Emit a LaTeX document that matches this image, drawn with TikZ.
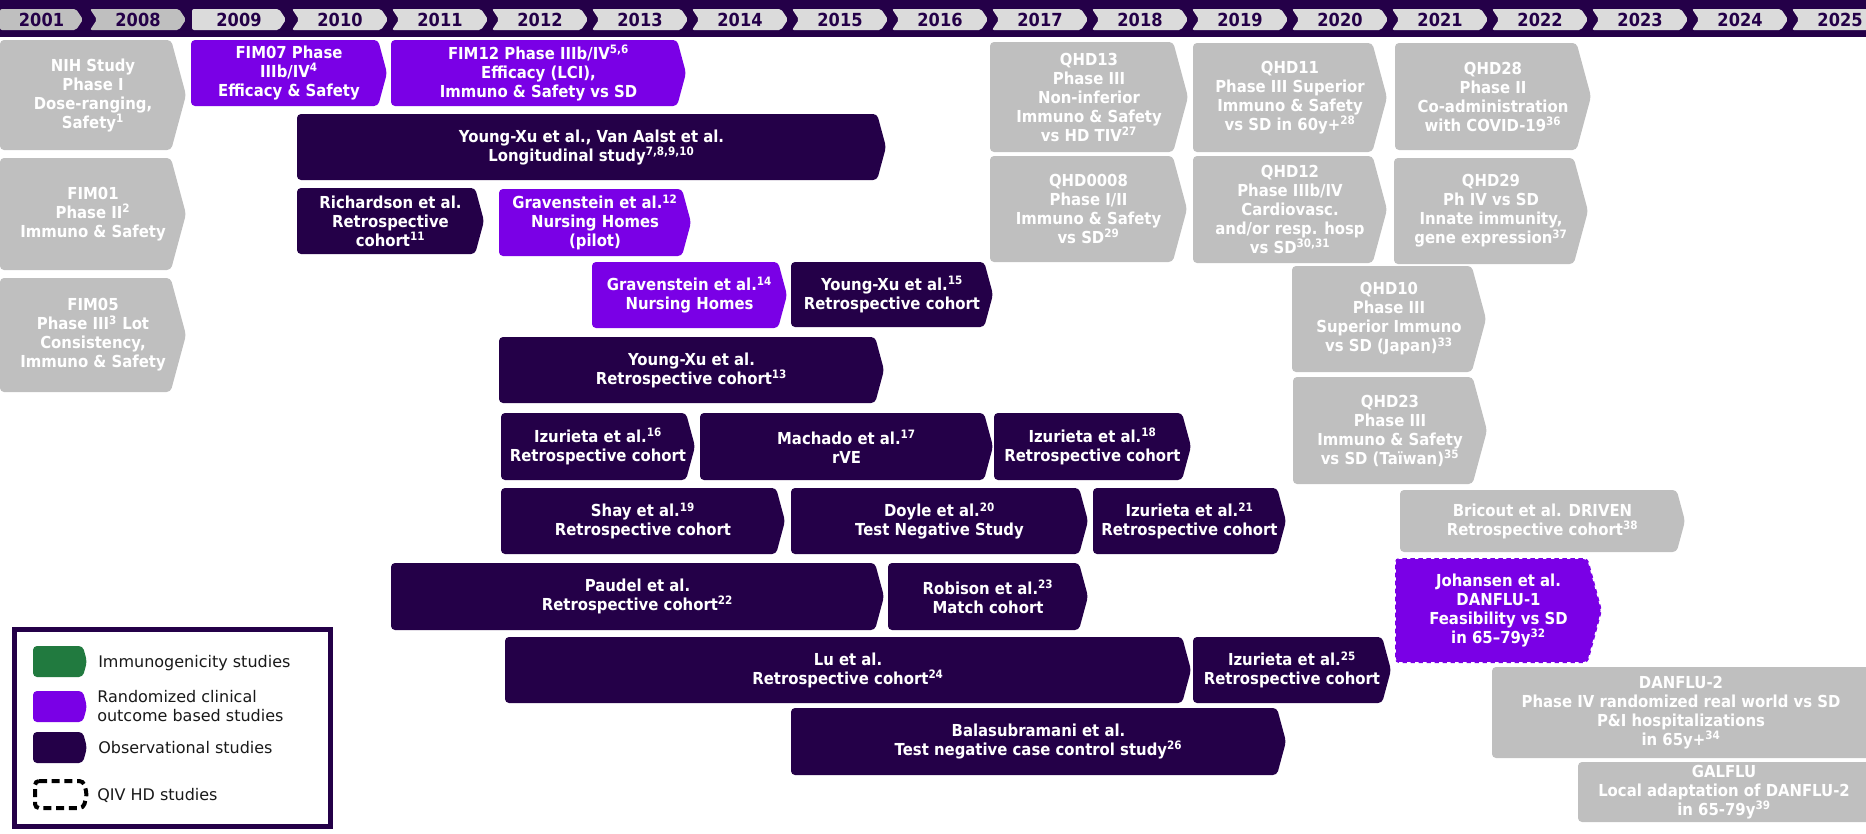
\documentclass[tikz,border=0pt]{standalone}
\usepackage{fontspec}
\setmainfont{DejaVu Sans}[FakeStretch=0.9]
\newfontfamily\legendfont{DejaVu Sans}

\definecolor{obsdark}{RGB}{36,0,72}
\definecolor{rcpurple}{RGB}{122,0,230}
\definecolor{studygray}{RGB}{191,191,191}
\definecolor{yearlight}{RGB}{219,219,219}
\definecolor{yearearly}{RGB}{191,191,191}
\definecolor{immgreen}{RGB}{33,122,63}

\newcommand\rf[1]{\textsuperscript{#1}}

% chevron-shaped study box: style, x1, y1, x2, y2 (pixel units, y downwards)
\newcommand\studyshape[5]{%
  \pgfmathsetmacro\dd{0.135*(#5-#3)}%
  \path[rounded corners=3pt, #1] (#2,#3) -- ({#4-\dd},#3) -- (#4,{(#3+#5)/2})
    -- ({#4-\dd},#5) -- (#2,#5) -- cycle;}

% study box with its label: name, style, x1, y1, x2, y2, text
\newcommand\study[7]{%
  \studyshape{#2}{#3}{#4}{#5}{#6}%
  \node[boxtext] (#1) at ({(#3+#5)/2},{(#4+#6)/2}) {#7};}

% year chevron of the timeline: name, colour, x1, x2, label, notch depth
\newcommand\yearchev[6]{%
  \fill[#2, rounded corners=1.5pt] (#3,9) -- ({#4-7},9) -- (#4,19.5) -- ({#4-7},30)
    -- (#3,30) -- ({#3+#6},19.5) -- cycle;
  \node[yearlabel] (#1) at ({(#3+#4)/2},19.5) {#5};}

\begin{document}
\begin{tikzpicture}[x=0.75pt, y=-0.75pt,
  boxtext/.style={text=white, align=center, inner sep=0pt,
    font=\bfseries\fontsize{12.4}{14.25}\selectfont},
  yearlabel/.style={text=obsdark, inner sep=0pt,
    font=\bfseries\fontsize{13.5}{14}\selectfont},
  legtext/.style={text=black!90, inner sep=0pt, anchor=west, align=left,
    font=\legendfont\fontsize{12}{13.6}\selectfont},
  obs/.style={fill=obsdark},
  rco/.style={fill=rcpurple},
  imm/.style={fill=studygray},
  qivhd/.style={postaction={draw=white, line width=1.3pt, dash pattern=on 2.5pt off 3.5pt}}]

\useasboundingbox (0,0) rectangle (1866,833);
\clip (0,0) rectangle (1866,833);

% ---- timeline band ----
\fill[obsdark] (0,0) rectangle (1866,37);
\yearchev{y2001}{yearearly}{0}{83}{2001}{0}
\yearchev{y2008}{yearearly}{90}{186}{2008}{7}
\yearchev{y2009}{yearlight}{192}{286}{2009}{0}
\foreach \yr [count=\k from 0] in {2010,...,2025}{
  \yearchev{y\yr}{yearlight}{292+100*\k}{388+100*\k}{\yr}{7}
}

% ---- early immunogenicity studies ----
\study{nih}{imm}{0}{40}{186}{150}{NIH Study\\Phase I\\Dose-ranging,\\Safety\rf{1}}
\study{fim01}{imm}{0}{158}{186}{270}{FIM01\\Phase II\rf{2}\\Immuno \& Safety}
\study{fim05}{imm}{0}{278}{186}{392}{FIM05\\Phase III\rf{3} Lot\\Consistency,\\Immuno \& Safety}

% ---- randomized clinical outcome studies ----
\study{fim07}{rco}{191}{40}{387}{106}{FIM07 Phase\\IIIb/IV\rf{4}\\Efficacy \& Safety}
\study{fim12}{rco}{391}{40}{686}{106}{FIM12 Phase IIIb/IV\rf{5,6}\\Efficacy (LCI),\\Immuno \& Safety vs SD}
\study{grav12}{rco}{499}{189}{691}{256}{Gravenstein et al.\rf{12}\\Nursing Homes\\(pilot)}
\study{grav14}{rco}{592}{262}{787}{328}{Gravenstein et al.\rf{14}\\Nursing Homes}

% ---- observational studies ----
\study{youngvan}{obs}{297}{114}{886}{180}{Young-Xu et al., Van Aalst et al.\\Longitudinal study\rf{7,8,9,10}}
\study{richardson}{obs}{297}{188}{484}{254}{Richardson et al.\\Retrospective\\cohort\rf{11}}
\study{yx15}{obs}{791}{262}{993}{327}{Young-Xu et al.\rf{15}\\Retrospective cohort}
\study{yx13}{obs}{499}{337}{884}{403}{Young-Xu et al.\\Retrospective cohort\rf{13}}
\study{iz16}{obs}{501}{413}{695}{480}{Izurieta et al.\rf{16}\\Retrospective cohort}
\study{machado}{obs}{700}{413}{993}{480}{Machado et al.\rf{17}\\rVE}
\study{iz18}{obs}{994}{413}{1191}{480}{Izurieta et al.\rf{18}\\Retrospective cohort}
\study{shay}{obs}{501}{488}{785}{554}{Shay et al.\rf{19}\\Retrospective cohort}
\study{doyle}{obs}{791}{488}{1088}{554}{Doyle et al.\rf{20}\\Test Negative Study}
\study{iz21}{obs}{1093}{488}{1286}{554}{Izurieta et al.\rf{21}\\Retrospective cohort}
\study{paudel}{obs}{391}{563}{884}{630}{Paudel et al.\\Retrospective cohort\rf{22}}
\study{robison}{obs}{888}{563}{1088}{630}{Robison et al.\rf{23}\\Match cohort}
\study{lu}{obs}{505}{637}{1191}{703}{Lu et al.\\Retrospective cohort\rf{24}}
\study{iz25}{obs}{1193}{637}{1391}{703}{Izurieta et al.\rf{25}\\Retrospective cohort}
\study{bala}{obs}{791}{708}{1286}{775}{Balasubramani et al.\\Test negative case control study\rf{26}}

% ---- QIV HD studies ----
\study{qhd13}{imm}{990}{42}{1188}{152}{QHD13\\Phase III\\Non-inferior\\Immuno \& Safety\\vs HD TIV\rf{27}}
\study{qhd11}{imm}{1193}{43}{1387}{152}{QHD11\\Phase III Superior\\Immuno \& Safety\\vs SD in 60y+\rf{28}}
\study{qhd28}{imm}{1395}{43}{1591}{150}{QHD28\\Phase II\\Co-administration\\with COVID-19\rf{36}}
\study{qhd0008}{imm}{990}{156}{1187}{262}{QHD0008\\Phase I/II\\Immuno \& Safety\\vs SD\rf{29}}
\study{qhd12}{imm}{1193}{156}{1387}{263}{QHD12\\Phase IIIb/IV\\Cardiovasc.\\and/or resp. hosp\\vs SD\rf{30,31}}
\study{qhd29}{imm}{1394}{158}{1588}{264}{QHD29\\Ph IV vs SD\\Innate immunity,\\gene expression\rf{37}}
\study{qhd10}{imm}{1292}{266}{1486}{372}{QHD10\\Phase III\\Superior Immuno\\vs SD (Japan)\rf{33}}
\study{qhd23}{imm}{1293}{377}{1487}{484}{QHD23\\Phase III\\Immuno \& Safety\\vs SD (Taïwan)\rf{35}}
\study{bricout}{imm}{1400}{490}{1685}{552}{Bricout et al. DRIVEN\\Retrospective cohort\rf{38}}
\study{johansen}{rco,qivhd}{1395}{558}{1602}{663}{Johansen et al.\\DANFLU-1\\Feasibility vs SD\\in 65--79y\rf{32}}

% boxes running past the right edge
\studyshape{imm}{1492}{667}{1910}{758}
\node[boxtext] (danflu2) at (1681,712.5) {DANFLU-2\\Phase IV randomized real world vs SD\\P\&I hospitalizations\\in 65y+\rf{34}};
\studyshape{imm}{1578}{762}{1910}{822}
\node[boxtext] (galflu) at (1724,792) {GALFLU\\Local adaptation of DANFLU-2\\in 65-79y\rf{39}};

% ---- legend ----
\draw[obsdark, line width=3.75pt, fill=white] (14.5,629.5) rectangle (330.5,826.5);
\studyshape{fill=immgreen}{33}{646}{87}{677}
\studyshape{rco}{33}{691}{87}{722}
\studyshape{obs}{33}{732}{87}{763}
\studyshape{draw=black, line width=3pt, dash pattern=on 6pt off 3.5pt}{35}{781}{87}{808}
\node[legtext] (leg-imm) at (98,663) {Immunogenicity studies};
\node[legtext] (leg-rco) at (97,706) {Randomized clinical\\outcome based studies};
\node[legtext] (leg-obs) at (98,748) {Observational studies};
\node[legtext] (leg-qiv) at (97,795) {QIV HD studies};
\end{tikzpicture}
\end{document}
